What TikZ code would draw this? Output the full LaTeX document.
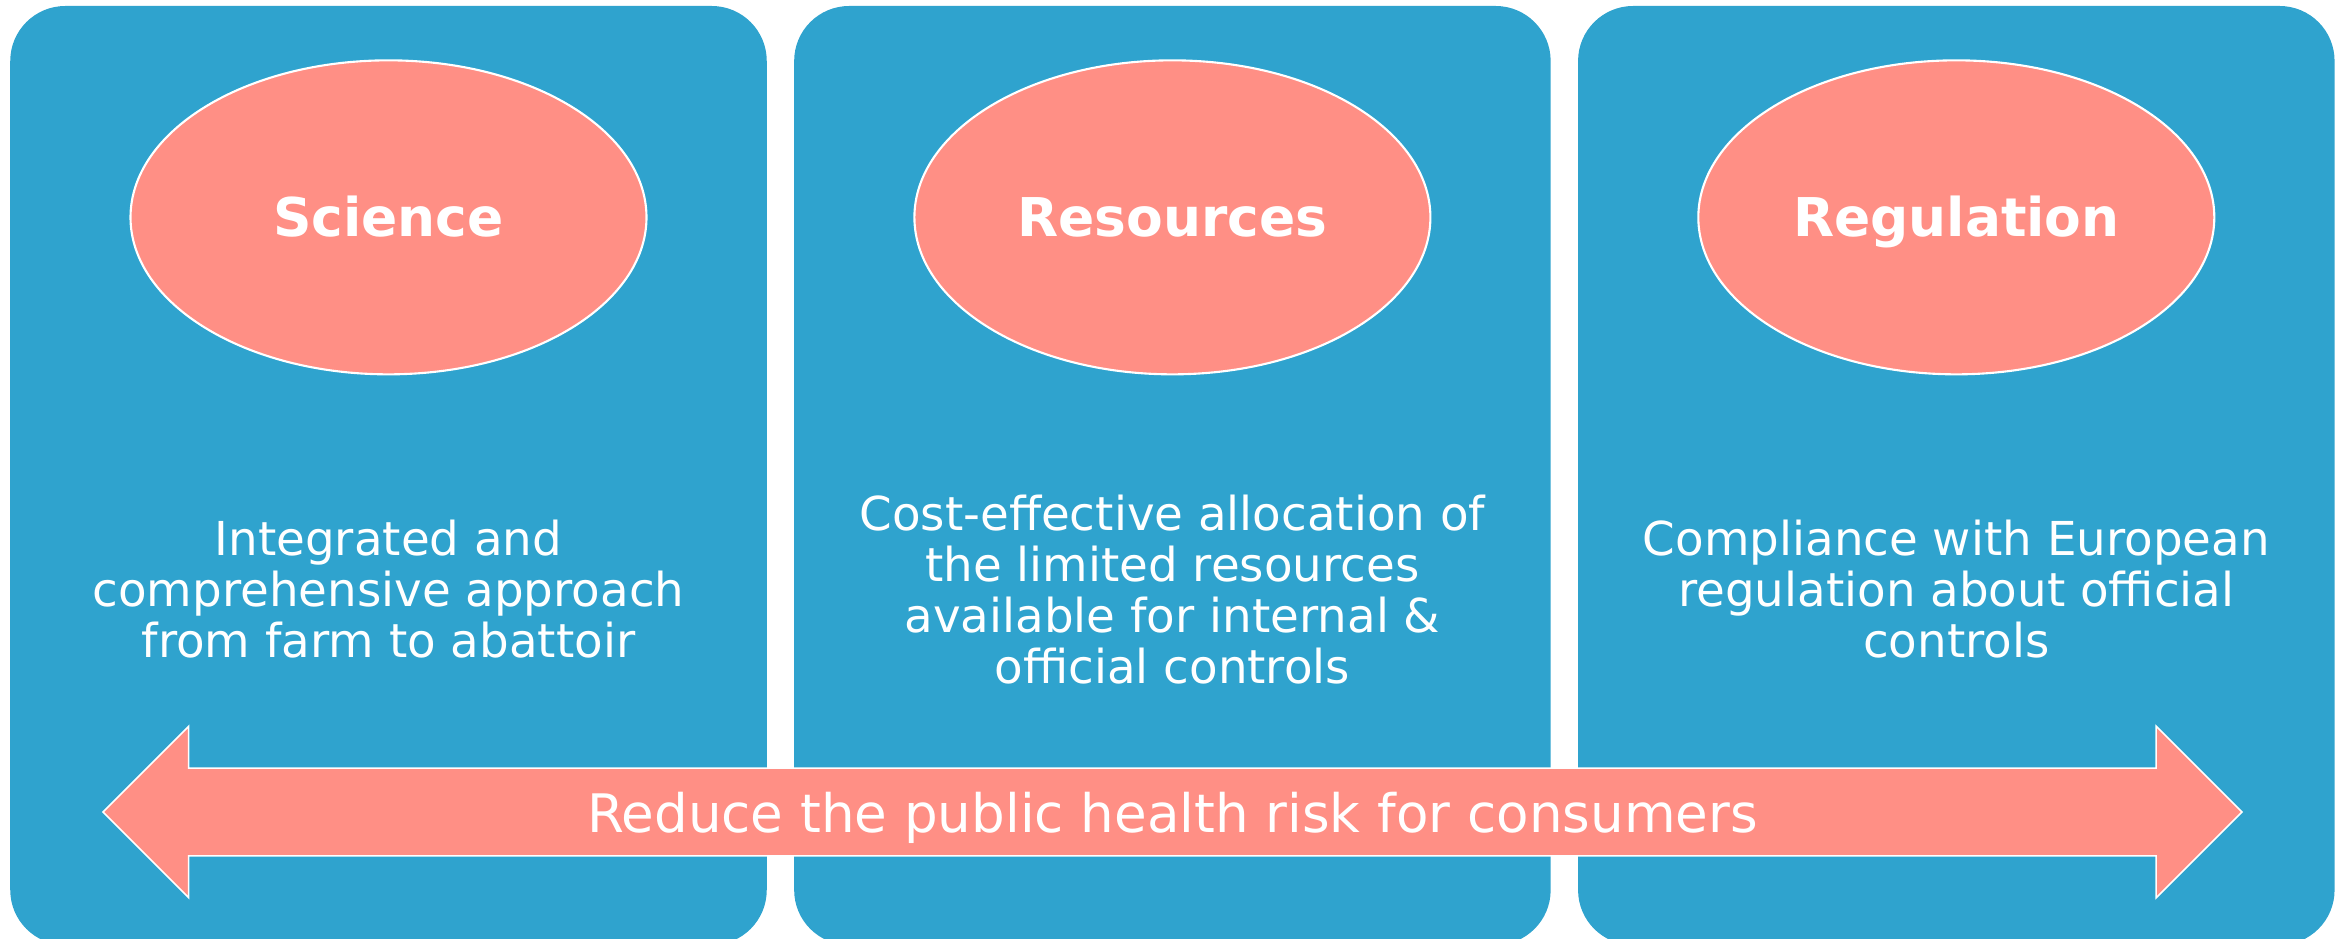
\documentclass[tikz,border=0pt]{standalone}
\usepackage{fontspec}
\setmainfont{DejaVu Sans}
\usepackage{tikz}
\usetikzlibrary{positioning}
\usetikzlibrary{shapes}
\usetikzlibrary{shapes.arrows}

\definecolor{panelBlue}{RGB}{47,163,206}
\definecolor{salmonRed}{RGB}{255,143,133}

\begin{document}
\begin{tikzpicture}[
        panel/.style={rectangle, fill=panelBlue, rounded corners=5.5mm, minimum width=75.65mm, minimum height=93.9mm, inner sep=0pt},
        pillar/.style={ellipse, fill=salmonRed, draw=white, line width=0.6pt, minimum width=51.6mm, minimum height=31.4mm, text=white, text height=1.1em, text depth=0pt, font=\fontsize{15.2}{18}\selectfont\bfseries},
        body/.style={text=white, align=center, font=\fontsize{13.3}{14.5}\selectfont},
        goal/.style={double arrow, fill=salmonRed, draw=white, line width=0.45pt, double arrow head extend=4.2mm, double arrow tip angle=90, minimum height=213.9mm, inner sep=0pt, text height=6.3mm, text depth=2.3mm, text=white, font=\fontsize{15.1}{17}\selectfont}
    ]
        \useasboundingbox (0,0) rectangle (23.41,9.38);

        % three columns
        \node (rectSci) at (3.885,4.625) [panel] {};
        \node[right=2.6mm of rectSci] (rectRes) [panel] {};
        \node[right=2.6mm of rectRes] (rectReg) [panel] {};

        % headings
        \node[below=5.4mm of rectSci.north] (ellSci) [pillar] {Science};
        \node[below=5.4mm of rectRes.north] (ellRes) [pillar] {Resources};
        \node[below=5.4mm of rectReg.north] (ellReg) [pillar] {Regulation};

        % descriptions
        \node (txtSci) at ([yshift=-21.4mm]ellSci.south) [body] {Integrated and\\comprehensive approach\\from farm to abattoir};
        \node (txtRes) at ([yshift=-21.4mm]ellRes.south) [body] {Cost-effective allocation of\\the limited resources\\available for internal \&\\official controls};
        \node (txtReg) at ([yshift=-21.4mm]ellReg.south) [body] {Compliance with European\\regulation about official\\controls};

        % common goal across all columns
        \node (arrRisk) at (rectRes |- 0,1.26) [goal] {Reduce the public health risk for consumers};
\end{tikzpicture}
\end{document}
